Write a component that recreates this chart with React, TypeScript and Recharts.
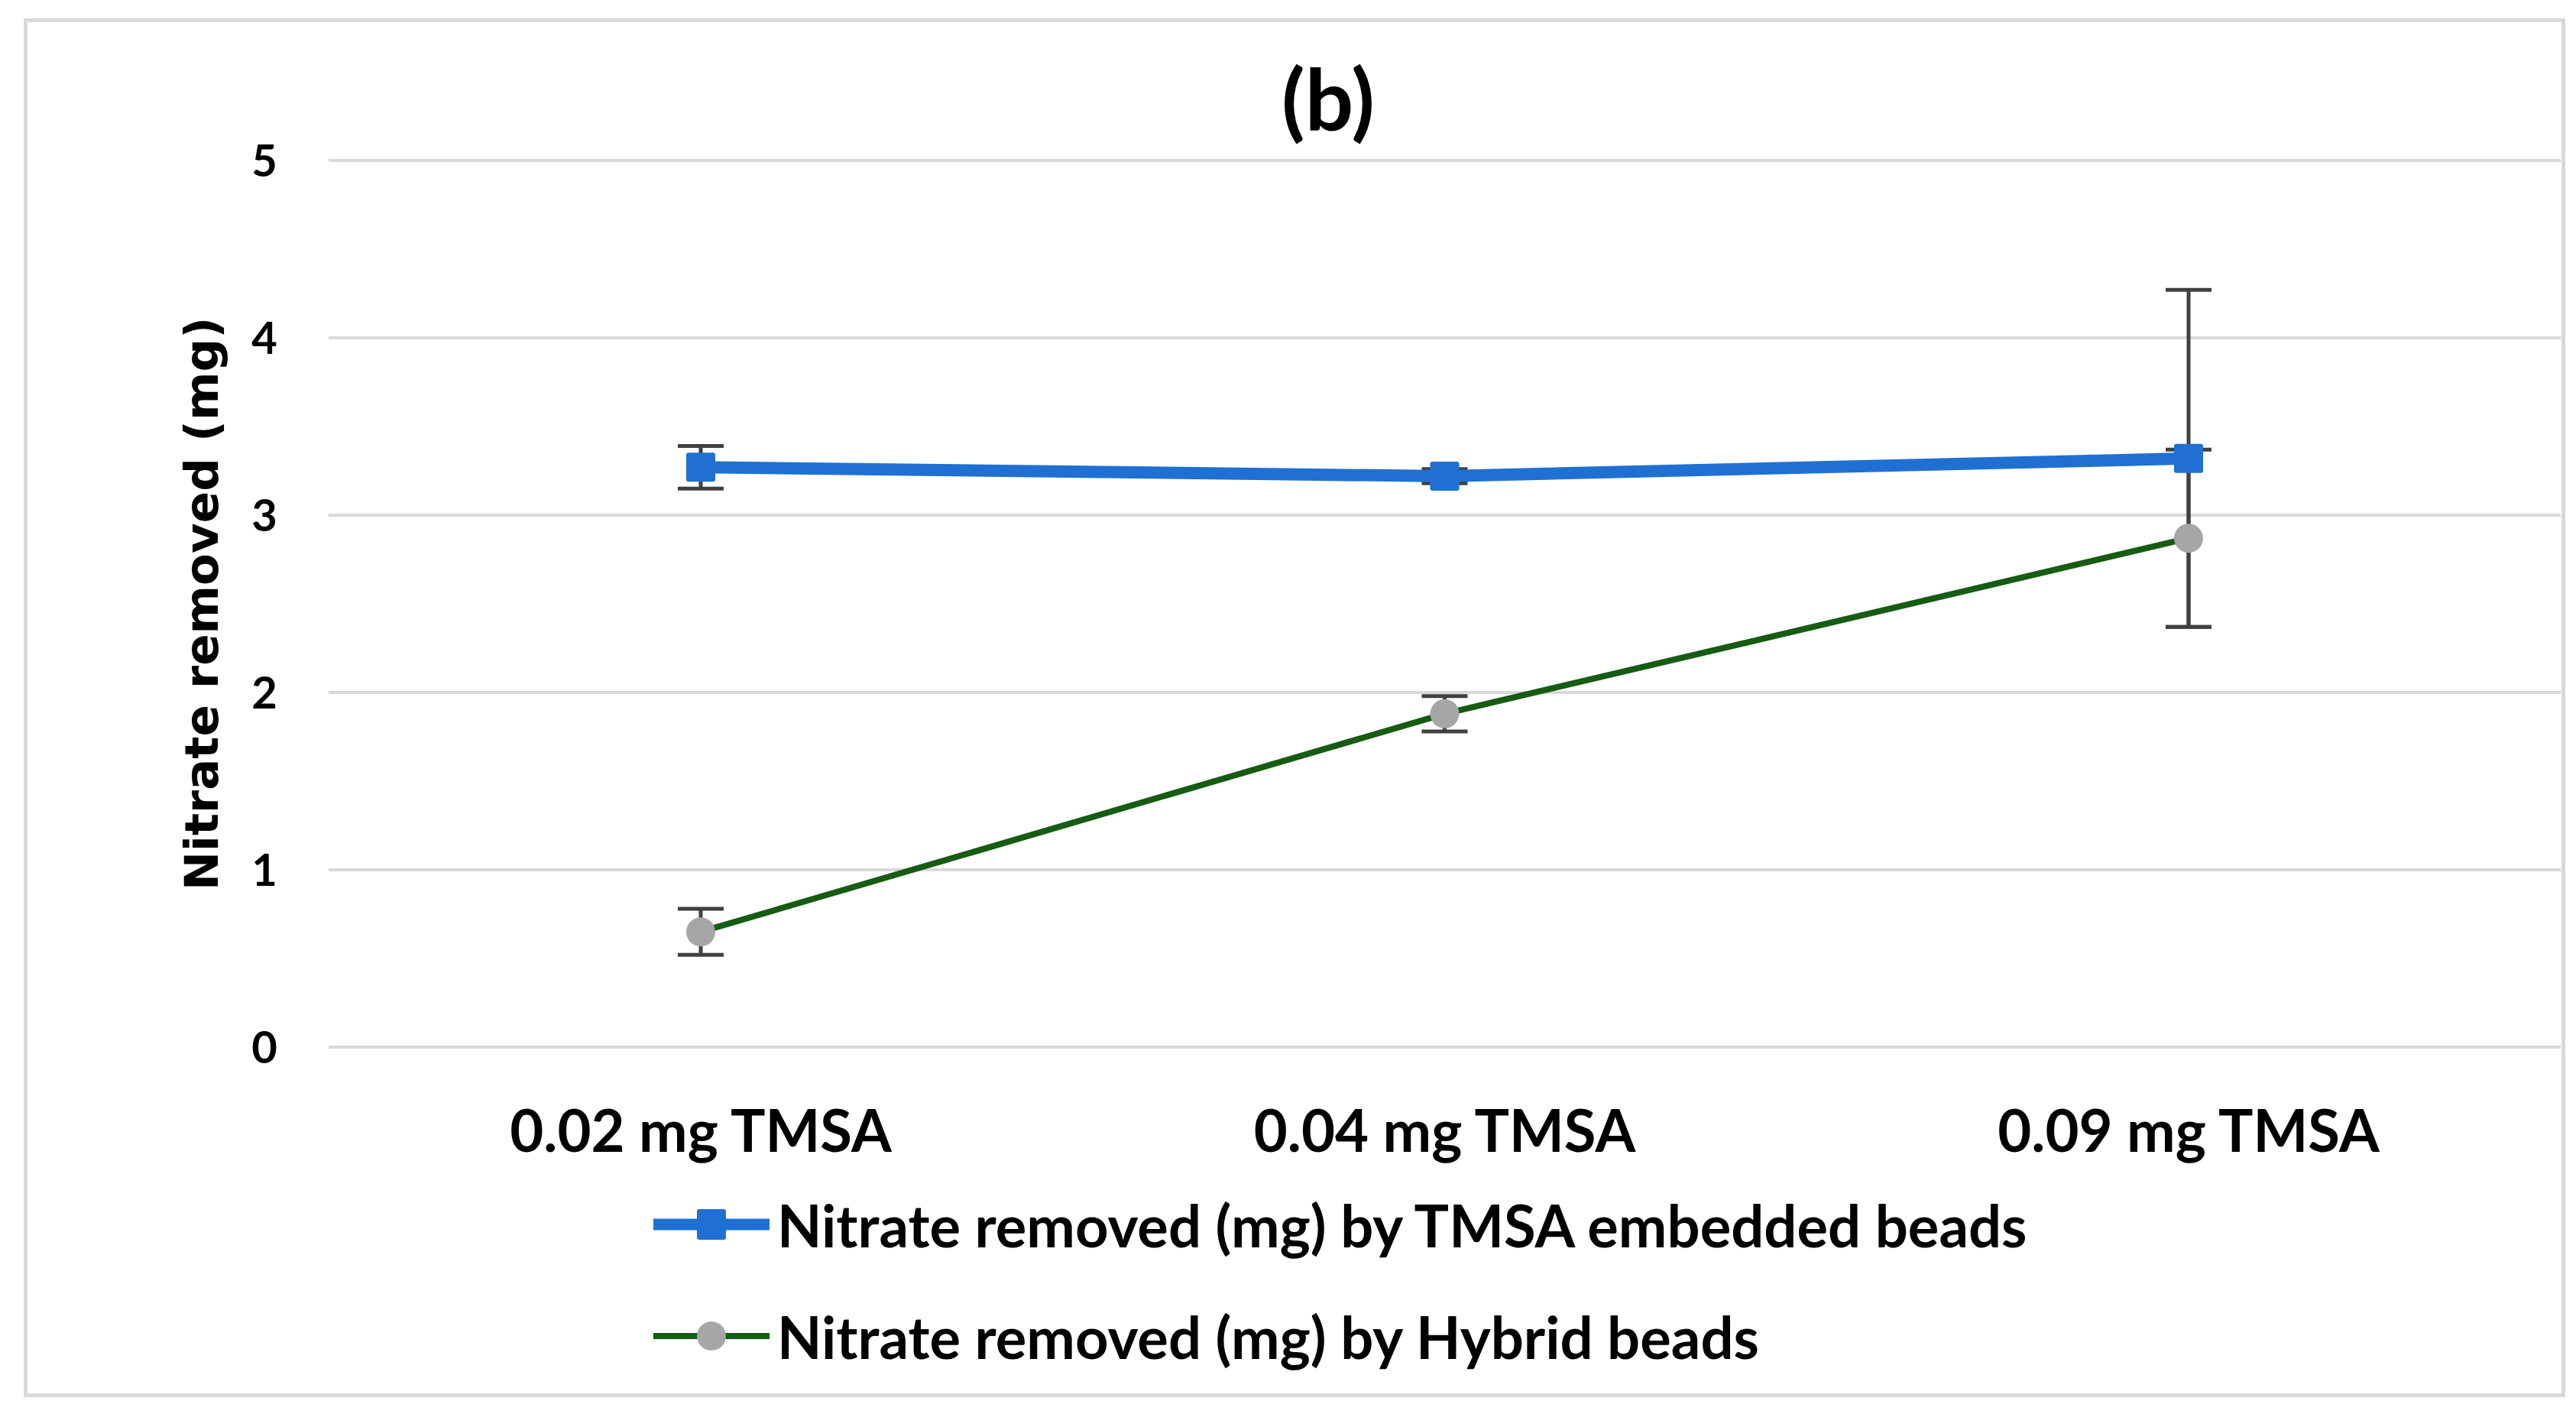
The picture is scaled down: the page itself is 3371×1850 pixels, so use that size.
import React from 'react'
import {
  ComposedChart,
  Line,
  XAxis,
  YAxis,
  CartesianGrid,
  ErrorBar,
} from 'recharts'

const CATEGORIES = ['0.02 mg TMSA', '0.04 mg TMSA', '0.09 mg TMSA']
const TMSA_VALUES = [3.27, 3.22, 3.32]
const TMSA_ERRORS = [0.12, 0.04, 0.95]
const HYBRID_VALUES = [0.65, 1.88, 2.87]
const HYBRID_ERRORS = [0.13, 0.1, 0.5]
const Y_TICKS = [0, 1, 2, 3, 4, 5]
const SERIES_NAMES = [
  'Nitrate removed (mg) by TMSA embedded beads',
  'Nitrate removed (mg) by Hybrid beads',
]

const BLUE = '#1F70D2'
const GREEN = '#165C12'
const GRAY = '#A6A6A6'
const ERR = '#404040'
const GRID = '#D9D9D9'
const FONT = 'Lato, "Open Sans", sans-serif'

const W = 3371
const H = 1850

const data = CATEGORIES.map((name, i) => ({
  name,
  tmsa: TMSA_VALUES[i],
  tmsaErr: TMSA_ERRORS[i],
  hybrid: HYBRID_VALUES[i],
  hybridErr: HYBRID_ERRORS[i],
}))

function SquareDot(props: { cx?: number; cy?: number; index?: number }) {
  const { cx, cy, index } = props
  if (cx == null || cy == null) return null
  return <rect key={`sq-${index}`} x={cx - 19} y={cy - 19} width={38} height={38} rx={3} fill={BLUE} />
}

function CircleDot(props: { cx?: number; cy?: number; index?: number }) {
  const { cx, cy, index } = props
  if (cx == null || cy == null) return null
  return <circle key={`ci-${index}`} cx={cx} cy={cy} r={19} fill={GRAY} />
}

function YTitle({ viewBox }: { viewBox?: { x: number; y: number; width: number; height: number } }) {
  const x = (viewBox?.x ?? 0) + 263
  const y = (viewBox?.y ?? 0) + (viewBox?.height ?? 0) / 2
  return (
    <text
      x={x}
      y={y}
      transform={`rotate(-90 ${x} ${y})`}
      textAnchor='middle'
      dominantBaseline='central'
      fontFamily='"DejaVu Sans", Verdana, sans-serif'
      fontWeight='bold'
      fontSize={61}
      fill='#000'>
      Nitrate removed (mg)
    </text>
  )
}

function LegendRow({ kind, label, top }: { kind: 'square' | 'circle'; label: string; top: number }) {
  return (
    <div
      style={{
        position: 'absolute',
        left: 855,
        top,
        height: 80,
        display: 'flex',
        alignItems: 'center',
        whiteSpace: 'nowrap',
      }}>
      <svg width={152} height={60} style={{ marginRight: 10 }}>
        {kind === 'square' ? (
          <>
            <line x1={0} y1={30} x2={152} y2={30} stroke={BLUE} strokeWidth={15} />
            <rect x={57} y={10} width={38} height={40} rx={3} fill={BLUE} />
          </>
        ) : (
          <>
            <line x1={0} y1={30} x2={152} y2={30} stroke={GREEN} strokeWidth={8} />
            <circle cx={76} cy={30} r={19} fill={GRAY} />
          </>
        )}
      </svg>
      <span style={{ fontFamily: FONT, fontWeight: 700, fontSize: 76, color: '#000' }}>{label}</span>
    </div>
  )
}

export default function App() {
  return (
    <div style={{ position: 'absolute', left: 0, top: 0, width: W, height: H, background: '#fff' }}>
      <div
        style={{
          position: 'absolute',
          left: 31,
          top: 24,
          width: 3316,
          height: 1794,
          border: `5px solid ${GRID}`,
        }}
      />
      <div
        style={{
          position: 'absolute',
          left: 1738,
          top: 68,
          transform: 'translateX(-50%)',
          fontFamily: FONT,
          fontWeight: 700,
          fontSize: 112,
          lineHeight: '120px',
          color: '#000',
        }}>
        (b)
      </div>

      <div style={{ position: 'absolute', left: 0, top: 0 }}>
        <ComposedChart
          width={W}
          height={H}
          data={data}
          margin={{ top: 210, right: 20, bottom: 380, left: 0 }}>
          <CartesianGrid vertical={false} stroke={GRID} strokeWidth={4} />
          <XAxis
            dataKey='name'
            height={100}
            padding={{ left: 487, right: 487 }}
            axisLine={false}
            tickLine={false}
            tickSize={0}
            tickMargin={83}
            interval={0}
            tick={{ fontFamily: FONT, fontWeight: 700, fontSize: 76, fill: '#000' }}
          />
          <YAxis
            width={430}
            domain={[0, 5]}
            ticks={Y_TICKS}
            axisLine={false}
            tickLine={false}
            tickSize={0}
            tickMargin={67}
            tick={{ fontFamily: FONT, fontWeight: 700, fontSize: 58, fill: '#000' }}
            label={<YTitle />}
          />
          <Line
            dataKey='tmsa'
            name={SERIES_NAMES[0]}
            stroke={BLUE}
            strokeWidth={16}
            dot={SquareDot}
            activeDot={false}
            isAnimationActive={false}>
            <ErrorBar dataKey='tmsaErr' direction='y' width={30} strokeWidth={5} stroke={ERR} />
          </Line>
          <Line
            dataKey='hybrid'
            name={SERIES_NAMES[1]}
            stroke={GREEN}
            strokeWidth={8}
            dot={CircleDot}
            activeDot={false}
            isAnimationActive={false}>
            <ErrorBar dataKey='hybridErr' direction='y' width={30} strokeWidth={5} stroke={ERR} />
          </Line>
        </ComposedChart>
      </div>

      <LegendRow kind='square' label={SERIES_NAMES[0]} top={1562} />
      <LegendRow kind='circle' label={SERIES_NAMES[1]} top={1708} />
    </div>
  )
}
